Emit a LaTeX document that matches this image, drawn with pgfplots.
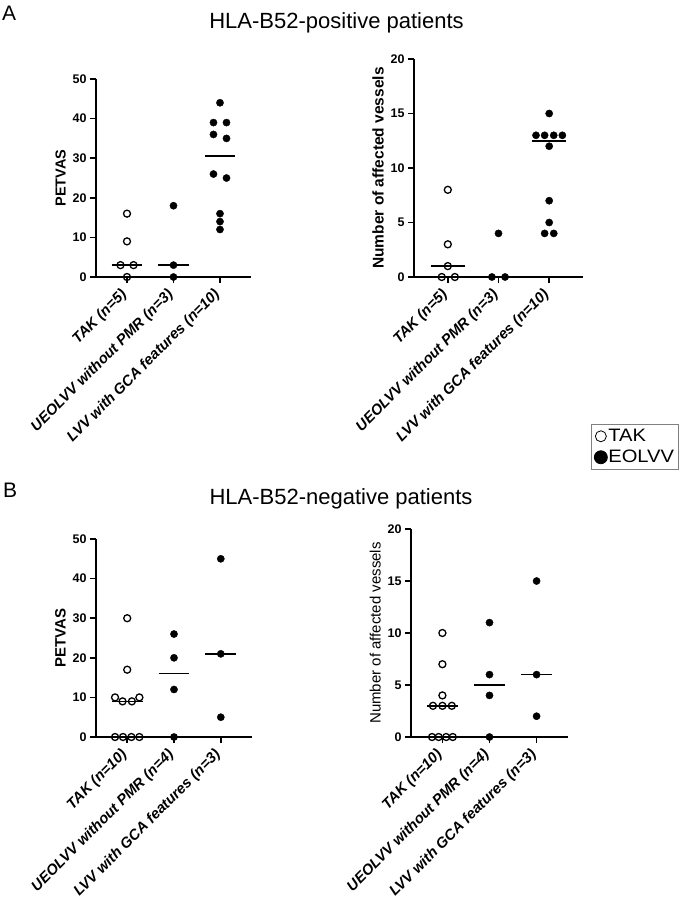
\documentclass[border=0pt]{standalone}
\usepackage{fontspec}
\setmainfont{Liberation Sans}
\usepackage{pgfplots}
\pgfplotsset{compat=1.18}
\pgfplotsset{
 gp/.style={
  scale only axis,
  anchor=south west,
  axis lines=left,
  axis line style={-, line width=1.8pt},
  xmin=-0.667, xmax=2.667, ymin=0,
  xtick={0,1,2},
  tick align=outside,
  major tick length=6pt,
  tick style={line width=1.5pt, black},
  clip=false,
  /pgf/number format/assume math mode=true,
  yticklabel style={font=\bfseries\fontsize{12.5}{13}\selectfont},
  xticklabel style={font=\bfseries\itshape\fontsize{14.8}{15}\selectfont, yshift=-8pt, xshift=-1pt, rotate=45, anchor=east, inner sep=2pt},
  ylabel style={font=\bfseries\fontsize{14.5}{15}\selectfont},
 },
 open/.style={only marks, mark=o, mark size=3.5pt, line width=1.3pt, black},
 filled/.style={only marks, mark=*, mark size=3.6pt, black},
 med/.style={black, line width=1.5pt},
}
\begin{document}
\begin{tikzpicture}
% ---------------- A left: PETVAS ----------------
\begin{axis}[gp, at={(96pt,-277pt)}, width=155pt, height=198pt,
  ymax=50, ytick={0,10,...,50}, ylabel={PETVAS},
  xticklabels={{TAK (n=5)},{UEOLVV without PMR (n=3)},{LVV with GCA features (n=10)}}]
\addplot[med] coordinates {(-0.33,3) (0.33,3)};
\addplot[med] coordinates {(0.67,3) (1.33,3)};
\addplot[med] coordinates {(1.67,30.5) (2.33,30.5)};
\addplot[open] coordinates {(0,16) (0,9) (-0.14,3) (0.14,3) (0,0)};
\addplot[filled] coordinates {(1,18) (1,3) (1,0)};
\addplot[filled] coordinates {(2,44) (1.86,39) (2.14,39) (1.86,36) (2.14,35) (1.86,26) (2.14,25) (2,16) (2,14) (2,12)};
\end{axis}
% ---------------- A right: vessels ----------------
\begin{axis}[gp, at={(414pt,-277pt)}, width=169pt, height=218pt,
  ymax=20, ytick={0,5,...,20}, ylabel={Number of affected vessels},
  ylabel style={font=\bfseries\fontsize{15.5}{16}\selectfont},
  xticklabels={{TAK (n=5)},{UEOLVV without PMR (n=3)},{LVV with GCA features (n=10)}},
  legend style={at={(1.047,-0.674)}, anchor=north west, draw=gray, line width=0.8pt,
    font=\fontsize{18}{19}\selectfont, inner xsep=3pt, inner ysep=3pt, row sep=3pt,
    nodes={inner xsep=1pt, inner ysep=2pt}},
  legend image post style={xshift=4pt},
  legend cell align=left]
\addlegendimage{only marks, mark=o, mark size=5.5pt, line width=0.8pt, black}
\addlegendentry{\scalebox{1.12}[1]{TAK}}
\addlegendimage{only marks, mark=*, mark size=6.5pt, black}
\addlegendentry{\scalebox{1.12}[1]{EOLVV}}
\addplot[med, forget plot] coordinates {(-0.33,1) (0.33,1)};
\addplot[med, forget plot] coordinates {(0.67,0) (1.33,0)};
\addplot[med, forget plot] coordinates {(1.67,12.5) (2.33,12.5)};
\addplot[open, forget plot] coordinates {(0,8) (0,3) (0,1) (-0.12,0) (0.14,0)};
\addplot[filled, forget plot] coordinates {(1,4) (0.87,0) (1.13,0)};
\addplot[filled, forget plot] coordinates {(2,15) (1.74,13) (1.91,13) (2.09,13) (2.26,13) (2,12) (2,7) (2,5) (1.91,4) (2.09,4)};
\end{axis}
% ---------------- B left: PETVAS ----------------
\begin{axis}[gp, at={(96pt,-737pt)}, width=156pt, height=198pt,
  ymax=50, ytick={0,10,...,50}, ylabel={PETVAS},
  ylabel style={font=\bfseries\fontsize{15}{15}\selectfont},
  xticklabels={{TAK (n=10)},{UEOLVV without PMR (n=4)},{LVV with GCA features (n=3)}}]
\addplot[med] coordinates {(-0.33,9) (0.33,9)};
\addplot[med] coordinates {(0.67,16) (1.33,16)};
\addplot[med] coordinates {(1.67,21) (2.33,21)};
\addplot[open] coordinates {(0,30) (0,17) (-0.26,10) (-0.1,9) (0.1,9) (0.26,10) (-0.26,0) (-0.09,0) (0.09,0) (0.26,0)};
\addplot[filled] coordinates {(1,26) (1,20) (1,12) (1,0)};
\addplot[filled] coordinates {(2,45) (2,21) (2,5)};
\end{axis}
% ---------------- B right: vessels ----------------
\begin{axis}[gp, at={(411pt,-737pt)}, width=157pt, height=208pt,
  ymax=20, ytick={0,5,...,20}, ylabel={Number of affected vessels},
  ylabel style={font=\mdseries\fontsize{15}{15}\selectfont},
  xticklabels={{TAK (n=10)},{UEOLVV without PMR (n=4)},{LVV with GCA features (n=3)}}]
\addplot[med] coordinates {(-0.33,3) (0.33,3)};
\addplot[med] coordinates {(0.67,5) (1.33,5)};
\addplot[med] coordinates {(1.67,6) (2.33,6)};
\addplot[open] coordinates {(0,10) (0,7) (0,4) (-0.2,3) (0,3) (0.2,3) (-0.22,0) (-0.08,0) (0.08,0) (0.22,0)};
\addplot[filled] coordinates {(1,11) (1,6) (1,4) (1,0)};
\addplot[filled] coordinates {(2,15) (2,6) (2,2)};
\end{axis}
% titles
\node[anchor=base, font=\fontsize{22}{24}\selectfont] at (336.5pt,-28pt) {HLA-B52-positive patients};
\node[anchor=base, font=\fontsize{22}{24}\selectfont] at (341pt,-504pt) {HLA-B52-negative patients};
\node[anchor=base west, inner sep=0pt, font=\fontsize{21}{22}\selectfont] at (2pt,-20pt) {A};
\node[anchor=base west, inner sep=0pt, font=\fontsize{21}{22}\selectfont] at (3pt,-497pt) {B};
\pgfresetboundingbox
\useasboundingbox (0pt,0pt) rectangle (685pt,-903pt);
\end{tikzpicture}
\end{document}
